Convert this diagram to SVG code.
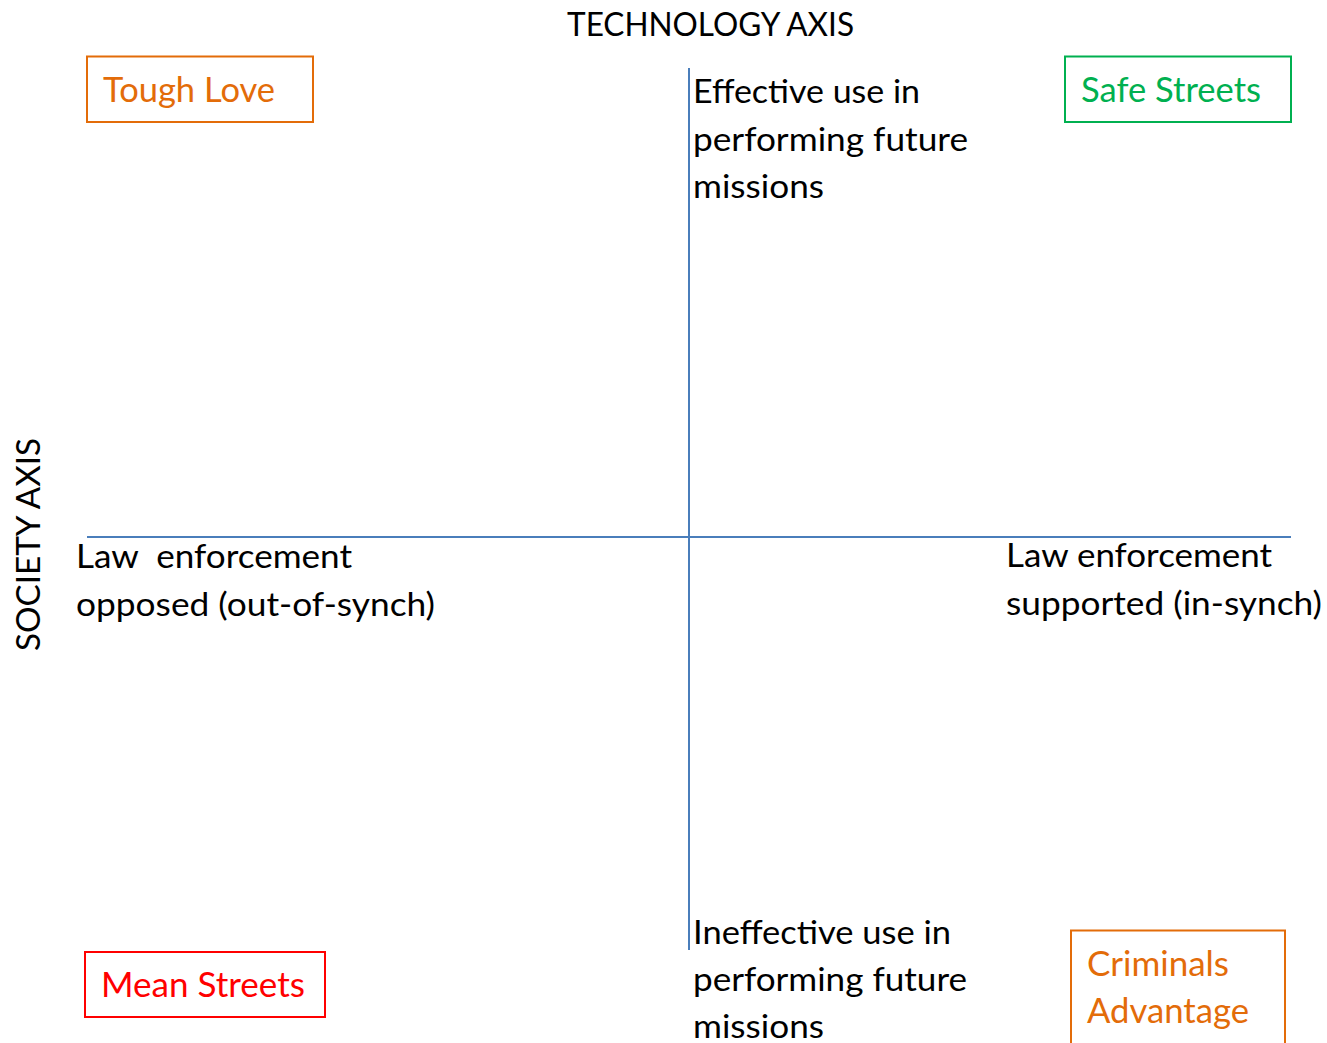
<svg xmlns="http://www.w3.org/2000/svg" width="1327" height="1043" viewBox="0 0 1327 1043">
<style>
text{font-family:Lato,"Open Sans","Liberation Sans",sans-serif;font-size:33px;fill:#000}
.lbl{font-size:34px}
.orange{fill:#e36c09}
.green{fill:#00b050}
.red{fill:#ff0000}
.box{fill:#fff;stroke-width:2}
.axis{stroke:#4a7ebb;stroke-width:2;fill:none}
</style>
<rect width="1327" height="1043" fill="#fff"/>
<g id="connectors">
<line class="axis" x1="689" y1="68" x2="689" y2="950"/>
<line class="axis" x1="87" y1="537" x2="1291" y2="537"/>
</g>
<g id="tech-axis-label">
<text x="567" y="36" textLength="287" lengthAdjust="spacingAndGlyphs">TECHNOLOGY AXIS</text>
</g>
<g id="society-axis-label">
<text transform="translate(40,651) rotate(-90)" x="0" y="0" textLength="213" lengthAdjust="spacingAndGlyphs">SOCIETY AXIS</text>
</g>
<g id="tough-love">
<rect class="box" x="87" y="56.5" width="226" height="65.5" stroke="#e36c09"/>
<text class="lbl orange" x="103" y="102" textLength="172" lengthAdjust="spacingAndGlyphs">Tough Love</text>
</g>
<g id="safe-streets">
<rect class="box" x="1065" y="56.5" width="226" height="65.5" stroke="#00b050"/>
<text class="lbl green" x="1081" y="102" textLength="180" lengthAdjust="spacingAndGlyphs">Safe Streets</text>
</g>
<g id="mean-streets">
<rect class="box" x="85" y="952" width="240" height="65" stroke="#ff0000"/>
<text class="lbl red" x="101" y="997" textLength="204" lengthAdjust="spacingAndGlyphs">Mean Streets</text>
</g>
<g id="criminals-advantage">
<rect class="box" x="1071" y="930.5" width="214" height="130" stroke="#e36c09"/>
<text class="lbl orange" x="1087" y="976" textLength="142" lengthAdjust="spacingAndGlyphs">Criminals</text>
<text class="lbl orange" x="1087" y="1023" textLength="162" lengthAdjust="spacingAndGlyphs">Advantage</text>
</g>
<g id="effective-use">
<text x="693" y="103" textLength="227" lengthAdjust="spacingAndGlyphs">Effective use in</text>
<text x="693" y="151" textLength="275" lengthAdjust="spacingAndGlyphs">performing future</text>
<text x="693" y="198" textLength="131" lengthAdjust="spacingAndGlyphs">missions</text>
</g>
<g id="ineffective-use">
<text x="693" y="944" textLength="258" lengthAdjust="spacingAndGlyphs">Ineffective use in</text>
<text x="693" y="991" textLength="274" lengthAdjust="spacingAndGlyphs">performing future</text>
<text x="693" y="1038" textLength="131" lengthAdjust="spacingAndGlyphs">missions</text>
</g>
<g id="law-opposed">
<text x="76" y="568" textLength="276" lengthAdjust="spacingAndGlyphs" xml:space="preserve">Law  enforcement</text>
<text x="76" y="616" textLength="359" lengthAdjust="spacingAndGlyphs">opposed (out-of-synch)</text>
</g>
<g id="law-supported">
<text x="1006" y="567" textLength="266" lengthAdjust="spacingAndGlyphs">Law enforcement</text>
<text x="1006" y="615" textLength="316" lengthAdjust="spacingAndGlyphs">supported (in-synch)</text>
</g>
</svg>
